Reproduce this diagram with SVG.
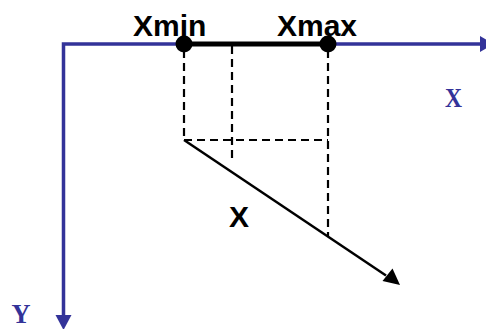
<svg xmlns="http://www.w3.org/2000/svg" width="486" height="329" viewBox="0 0 486 329">
<style>
.axis{stroke:#333399;stroke-width:3.5;fill:none}
.dash{stroke:#000;stroke-width:2.2;stroke-dasharray:8 5;fill:none}
.lbl{font-family:"Liberation Sans",Arial,sans-serif;font-weight:bold;font-size:30px;fill:#000}
.ax{font-family:"Liberation Serif","Times New Roman",serif;font-weight:bold;font-size:27px;fill:#333399}
</style>
<g id="axes">
<polyline class="axis" points="481,44 63.5,44 63.5,316" />
<path d="M480,36 L494,44 L480,52 Z" fill="#333399"/>
<path d="M55.5,315 L63.5,330 L71.5,315 Z" fill="#333399"/>
<text class="ax" x="445" y="106.5" textLength="17" lengthAdjust="spacingAndGlyphs">X</text>
<text class="ax" x="11.5" y="322.5" textLength="19" lengthAdjust="spacingAndGlyphs">Y</text>
</g>
<g id="connectors">
<line class="dash" x1="184" y1="50" x2="184" y2="140"/>
<line class="dash" x1="232" y1="46" x2="232" y2="162"/>
<line class="dash" x1="328" y1="50" x2="328" y2="236"/>
<line class="dash" x1="184" y1="140" x2="328" y2="140"/>
<line x1="184" y1="140" x2="386" y2="275.5" stroke="#000" stroke-width="2.5"/>
<path d="M382.5,281 L400,285 L392.5,268.5 Z" fill="#000"/>
</g>
<g id="range">
<line x1="184" y1="44" x2="328" y2="44" stroke="#000" stroke-width="5"/>
<circle cx="184" cy="44" r="8.5" fill="#000"/>
<circle cx="328" cy="44" r="8.5" fill="#000"/>
</g>
<g id="xmin"><text class="lbl" x="133" y="36">Xmin</text></g>
<g id="xmax"><text class="lbl" x="277" y="36">Xmax</text></g>
<g id="xlabel"><text class="lbl" x="229" y="227">X</text></g>
</svg>
